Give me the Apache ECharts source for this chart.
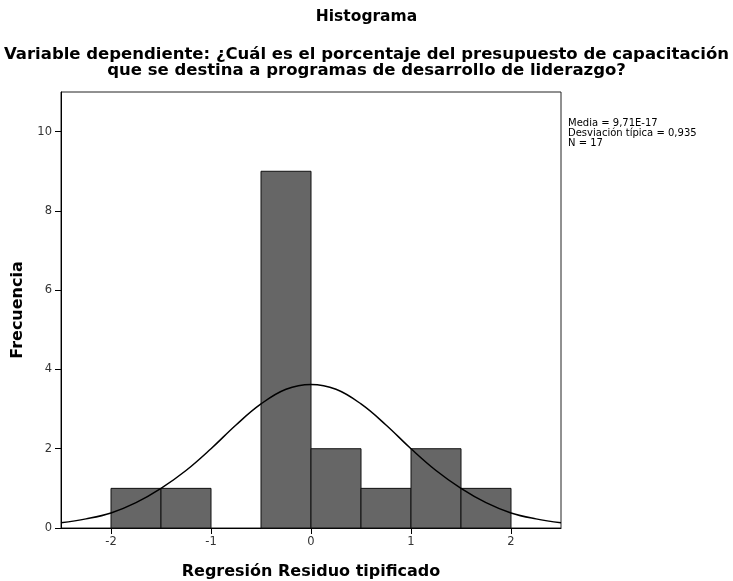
<!DOCTYPE html>
<html>
<head>
<meta charset="utf-8">
<script src="https://cdn.jsdelivr.net/npm/echarts@6/dist/echarts.min.js"></script>
<style>
  html, body { margin: 0; padding: 0; background: #fff; }
  #chart { width: 733px; height: 581px; }
</style>
</head>
<body>
<div id="chart"></div>
<script>
// histogram bins (residual z-scores) and counts
const binStart = [-2, -1.5, -0.5, 0, 0.5, 1, 1.5]
const binEnd = [-1.5, -1, 0, 0.5, 1, 1.5, 2]
const counts = [1, 1, 9, 2, 1, 2, 1]

// normal curve
const curveX = [-2.5, -2.25, -2, -1.75, -1.5, -1.25, -1, -0.75, -0.5, -0.25, 0, 0.25, 0.5, 0.75, 1, 1.25, 1.5, 1.75, 2, 2.25, 2.5]
const curveY = [0.13, 0.23, 0.38, 0.64, 1.0, 1.45, 2.0, 2.6, 3.13, 3.5, 3.62, 3.5, 3.13, 2.6, 2.0, 1.45, 1.0, 0.64, 0.38, 0.23, 0.13]

const xTicks = [-2, -1, 0, 1, 2]
const yTicks = [0, 2, 4, 6, 8, 10]

const statsLines = ['Media = 9,71E-17', 'Desviación típica = 0,935', 'N = 17']

const font = 'DejaVu Sans, Verdana, sans-serif'
const chart = echarts.init(document.getElementById('chart'))

const option = {
  animation: false,
  title: [
    {
      text: 'Histograma',
      left: 'center',
      top: 3,
      textStyle: { fontFamily: font, fontSize: 15.5, fontWeight: 'bold', color: '#000', lineHeight: 18 }
    },
    {
      text: 'Variable dependiente: ¿Cuál es el porcentaje del presupuesto de capacitación\nque se destina a programas de desarrollo de liderazgo?',
      left: 'center',
      top: 42,
      textStyle: { fontFamily: font, fontSize: 16.5, fontWeight: 'bold', color: '#000', lineHeight: 16, align: 'center' }
    },
    {
      text: statsLines.join('\n'),
      left: 563,
      top: 113,
      textStyle: { fontFamily: font, fontSize: 10, fontWeight: 'normal', color: '#000', lineHeight: 10 }
    }
  ],
  grid: {
    left: 61,
    right: 172,
    top: 92,
    bottom: 53,
    outerBoundsMode: 'none',
    containLabel: false,
    show: true,
    borderColor: '#222',
    borderWidth: 1,
    backgroundColor: '#fff'
  },
  xAxis: {
    type: 'value',
    min: -2.5,
    max: 2.5,
    name: 'Regresión Residuo tipificado',
    nameLocation: 'middle',
    nameGap: 36,
    nameTextStyle: { fontFamily: font, fontSize: 16, fontWeight: 'bold', color: '#000' },
    axisLine: { onZero: false, lineStyle: { color: '#000', width: 1 } },
    axisTick: { show: true, length: 6, customValues: xTicks, lineStyle: { color: '#000' } },
    axisLabel: { customValues: xTicks, fontFamily: font, fontSize: 11.5, color: '#333', margin: 8 },
    splitLine: { show: false }
  },
  yAxis: {
    type: 'value',
    min: 0,
    max: 11,
    name: 'Frecuencia',
    nameLocation: 'middle',
    nameGap: 35,
    nameTextStyle: { fontFamily: font, fontSize: 16, fontWeight: 'bold', color: '#000' },
    axisLine: { show: true, onZero: false, lineStyle: { color: '#000', width: 1 } },
    axisTick: { show: true, length: 6, customValues: yTicks, lineStyle: { color: '#000' } },
    axisLabel: { customValues: yTicks, fontFamily: font, fontSize: 11.5, color: '#333', margin: 9 },
    splitLine: { show: false }
  },
  series: [
    {
      type: 'custom',
      data: counts.map((c, i) => [binStart[i], binEnd[i], c]),
      renderItem(params, api) {
        const p0 = api.coord([api.value(0), 0])
        const p1 = api.coord([api.value(1), api.value(2)])
        return {
          type: 'rect',
          shape: { x: p0[0], y: p1[1], width: p1[0] - p0[0], height: p0[1] - p1[1] },
          style: { fill: '#666666', stroke: '#111', lineWidth: 1 }
        }
      },
      z: 2
    },
    {
      type: 'line',
      data: curveX.map((x, i) => [x, curveY[i]]),
      smooth: 0.4,
      showSymbol: false,
      lineStyle: { color: '#000', width: 1.5 },
      z: 3
    }
  ]
}

chart.setOption(option)
</script>
</body>
</html>
